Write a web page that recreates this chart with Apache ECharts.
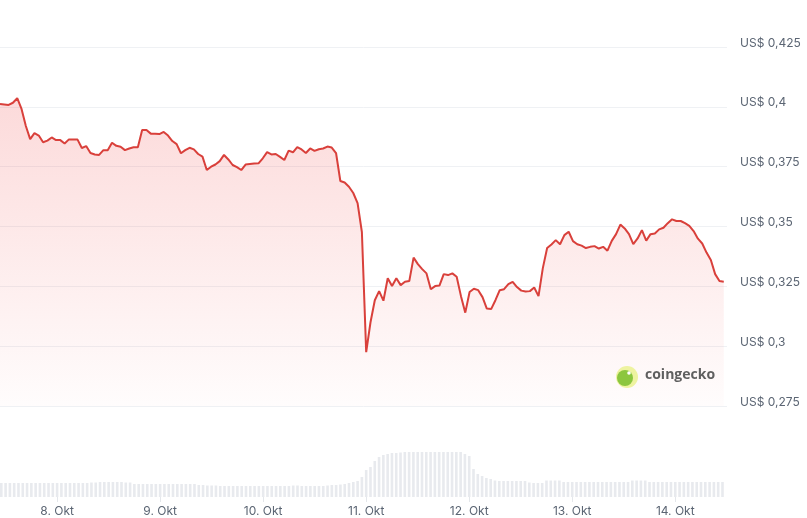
<!DOCTYPE html>
<html>
<head>
<meta charset="utf-8">
<script src="https://cdn.jsdelivr.net/npm/echarts@6/dist/echarts.min.js"></script>
<style>
  html, body { margin: 0; padding: 0; background: #ffffff; }
  #chart { width: 807px; height: 518px; }
</style>
</head>
<body>
<div id="chart"></div>
<script>
// Hourly series starting 7 Oct 11:00 (local time)
const startTime = new Date(2025, 9, 7, 11, 0, 0).getTime();
const axisMin = startTime;
const axisMax = new Date(2025, 9, 14, 11, 45, 0).getTime();

const prices = [
  0.4012, 0.4010, 0.4008, 0.4017, 0.4036, 0.3991, 0.3920, 0.3865, 0.3890, 0.3880,
  0.3852, 0.3859, 0.3872, 0.3861, 0.3861, 0.3847, 0.3864, 0.3864, 0.3863, 0.3828,
  0.3836, 0.3807, 0.3801, 0.3799, 0.3819, 0.3819, 0.3850, 0.3837, 0.3833, 0.3819,
  0.3826, 0.3831, 0.3831, 0.3903, 0.3903, 0.3888, 0.3888, 0.3886, 0.3895, 0.3880,
  0.3857, 0.3844, 0.3806, 0.3819, 0.3829, 0.3822, 0.3803, 0.3792, 0.3736, 0.3750,
  0.3759, 0.3773, 0.3799, 0.3780, 0.3757, 0.3748, 0.3736, 0.3759, 0.3761, 0.3763,
  0.3764, 0.3785, 0.3811, 0.3801, 0.3803, 0.3791, 0.3778, 0.3817, 0.3810, 0.3832,
  0.3822, 0.3807, 0.3826, 0.3816, 0.3823, 0.3826, 0.3834, 0.3830, 0.3807, 0.3690,
  0.3684, 0.3666, 0.3640, 0.3598, 0.3477, 0.2975, 0.3100, 0.3192, 0.3230, 0.3190,
  0.3284, 0.3251, 0.3284, 0.3255, 0.3269, 0.3272, 0.3370, 0.3343, 0.3322, 0.3304,
  0.3238, 0.3251, 0.3253, 0.3301, 0.3297, 0.3304, 0.3290, 0.3209, 0.3140, 0.3226,
  0.3240, 0.3234, 0.3205, 0.3157, 0.3155, 0.3192, 0.3234, 0.3238, 0.3259, 0.3269,
  0.3247, 0.3232, 0.3228, 0.3230, 0.3245, 0.3209, 0.3326, 0.3410, 0.3425, 0.3443,
  0.3426, 0.3464, 0.3478, 0.3439, 0.3426, 0.3420, 0.3410, 0.3415, 0.3418, 0.3408,
  0.3415, 0.3399, 0.3440, 0.3468, 0.3508, 0.3492, 0.3468, 0.3426, 0.3450, 0.3485,
  0.3441, 0.3468, 0.3471, 0.3488, 0.3495, 0.3514, 0.3530, 0.3523, 0.3523, 0.3514,
  0.3503, 0.3481, 0.3449, 0.3429, 0.3391, 0.3360, 0.3301, 0.3272, 0.3269
];

// Relative trading volume (arbitrary units)
const volumes = [
  14, 14, 14, 14, 14, 14, 14, 14, 14, 14,
  14, 14, 14, 14, 14, 14, 14, 14, 14, 14,
  14, 14.5, 14.5, 15, 15, 15, 15, 15, 15, 14.5,
  14.5, 13, 13, 13, 13, 13, 13, 13, 13, 13,
  13, 13, 13, 13, 13, 13, 12, 12, 11.5, 11.5,
  11.5, 11, 11, 11, 11, 11, 11, 11, 11, 11,
  11, 11, 11, 11, 11, 11, 11, 11, 11.5, 11.5,
  11, 11, 11, 11, 11, 11, 11.5, 12, 12, 12.5,
  13, 14, 15, 16, 20, 27, 30, 36, 40, 42,
  43, 44, 44, 44.5, 45, 45, 45, 45, 45, 45,
  45, 45, 45, 45, 45, 45, 45, 45, 43, 41,
  28, 23, 21, 19, 18, 16.5, 16, 16, 16, 16,
  16, 16, 16, 14.5, 14, 14, 14, 16.5, 16.5, 16.5,
  16.5, 15, 15, 15, 15, 15, 15, 15, 15, 15,
  15, 15, 15, 15, 15, 15, 15, 16.5, 16.5, 16.5,
  16.5, 15, 15, 15, 15, 15, 15, 15, 15, 15,
  15, 15, 15, 15, 15, 15, 15, 15, 15
];

const yTicks = { min: 0.275, max: 0.425, interval: 0.025 };
const monthLabel = 'Okt';

const priceData = prices.map((v, i) => [startTime + i * 3600000, v]);
const volumeData = volumes.map((v, i) => [startTime + i * 3600000, v]);

const chart = echarts.init(document.getElementById('chart'), null, { renderer: 'canvas' });

const font = 'Inter, "Noto Sans", sans-serif';

chart.setOption({
  animation: false,
  backgroundColor: '#ffffff',
  grid: [
    { left: 0, right: 80, top: 47, height: 359 },
    { left: 0, right: 80, top: 437, height: 60 }
  ],
  xAxis: [
    {
      type: 'time', gridIndex: 0, min: axisMin, max: axisMax,
      show: false
    },
    {
      type: 'time', gridIndex: 1, min: axisMin, max: axisMax,
      minInterval: 86400000, maxInterval: 86400000,
      axisLine: { show: false },
      axisTick: { show: true, length: 5, lineStyle: { color: '#e4e7eb' } },
      splitLine: { show: false },
      axisLabel: {
        color: '#5b6573', fontSize: 12, fontFamily: font, margin: 8,
        showMinLabel: false, showMaxLabel: false,
        formatter: function (value) {
          const d = new Date(value);
          return d.getDate() + '. ' + monthLabel;
        }
      }
    }
  ],
  yAxis: [
    {
      type: 'value', gridIndex: 0, position: 'right',
      min: yTicks.min, max: yTicks.max, interval: yTicks.interval,
      axisLine: { show: false }, axisTick: { show: false },
      splitLine: { show: true, lineStyle: { color: '#eff1f4', width: 1 } },
      axisLabel: {
        color: '#5b6573', fontSize: 12, fontFamily: font, margin: 13,
        verticalAlign: 'bottom', lineHeight: 8,
        formatter: function (v) {
          return 'US$ ' + String(Number(v.toFixed(3))).replace('.', ',');
        }
      }
    },
    {
      type: 'value', gridIndex: 1, min: 0, max: 60,
      show: false
    }
  ],
  series: [
    {
      type: 'bar', xAxisIndex: 1, yAxisIndex: 1,
      data: volumeData, barWidth: 2.6,
      itemStyle: { color: '#e8eaee' },
      silent: true
    },
    {
      type: 'line', xAxisIndex: 0, yAxisIndex: 0,
      data: priceData, showSymbol: false, smooth: false,
      lineStyle: { color: '#d9403b', width: 2 },
      areaStyle: {
        color: new echarts.graphic.LinearGradient(0, 0, 0, 1, [
          { offset: 0, color: 'rgba(240, 60, 60, 0.27)' },
          { offset: 1, color: 'rgba(240, 60, 60, 0.02)' }
        ])
      },
      silent: true
    }
  ],
  graphic: [
    {
      type: 'circle', shape: { cx: 627, cy: 377, r: 11 },
      style: { fill: '#eef3a0' }, z: 100
    },
    {
      type: 'circle', shape: { cx: 625, cy: 378, r: 8 },
      style: { fill: '#8cc63f' }, z: 101
    },
    {
      type: 'circle', shape: { cx: 629, cy: 373, r: 1.8 },
      style: { fill: '#ffffff' }, z: 102
    },
    {
      type: 'text', left: 645, top: 368, z: 100,
      style: {
        text: 'coingecko', fill: '#5f5f5f',
        font: 'bold 14px "Open Sans", Inter, sans-serif'
      }
    }
  ]
});
</script>
</body>
</html>
